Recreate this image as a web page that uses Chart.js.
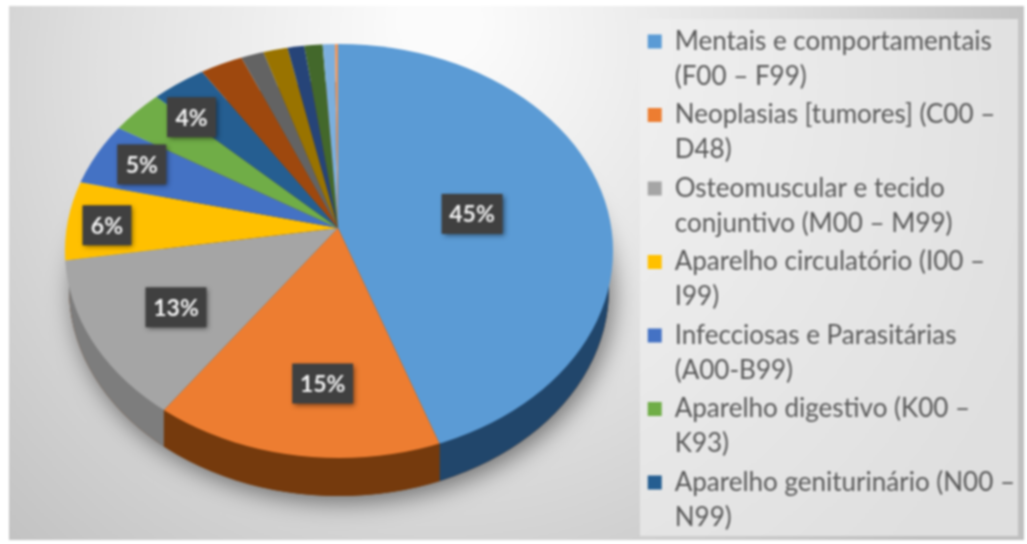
<!DOCTYPE html>
<html>
<head>
<meta charset="utf-8">
<title>Pizza</title>
<script src="https://cdn.jsdelivr.net/npm/chart.js@4"></script>
<style>
  html, body { margin: 0; padding: 0; background: #fff; overflow: hidden; }
  #wrap { width: 1027px; height: 544px; }
  canvas { filter: blur(0.8px); }
</style>
</head>
<body>
<div id="wrap"><canvas id="pieChart" width="1027" height="544"></canvas></div>
<script>
// legend text, one inner list per legend line
const categories = [
  ["Mentais e comportamentais", "(F00 – F99)"],
  ["Neoplasias [tumores] (C00 –", "D48)"],
  ["Osteomuscular e tecido", "conjuntivo (M00 – M99)"],
  ["Aparelho circulatório (I00 –", "I99)"],
  ["Infecciosas e Parasitárias", "(A00-B99)"],
  ["Aparelho digestivo (K00 –", "K93)"],
  ["Aparelho geniturinário (N00 –", "N99)"],
];
// percent of each slice, clockwise from the top
const values = [44.6, 15.3, 12.6, 6.2, 5.0, 3.5, 3.6, 2.8, 1.5, 1.6, 1.1, 1.2, 0.8, 0.2];
const labeledSlices = 6;
const colors = ["#5b9bd5", "#ed7d31", "#a5a5a5", "#ffc000", "#4472c4", "#70ad47", "#255e91",
  "#9e480e", "#636363", "#997300", "#264478", "#43682b", "#7cafdd", "#f1975a"];
const sideColors = ["#21466b", "#753a0d", "#7d7d7d", "#9c7600"];

// pie geometry in the picture: apex of the wedges and the rim ellipses
const apex = { x: 338, y: 228 };
const squash = 0.75;
const rim = { x: 339, y: 251, rx: 274, ry: 207 };
const base = { x: 339, y: 289, rx: 270, ry: 207 };
// where each percent label sits, as a part of the wedge direction
const labelAt = [[0.5, 0.41], [0.4, 0.77], [0.7, 0.74], [0.85, 0.35], [0.78, 0.82], [0.68, 0.89]];

function rimX(angle) {
  // where a wedge edge leaves the apex and hits the top ellipse
  const dx = Math.cos(angle), dy = Math.sin(angle) * squash;
  const ox = apex.x - rim.x, oy = apex.y - rim.y;
  const a = (dx * dx) / (rim.rx * rim.rx) + (dy * dy) / (rim.ry * rim.ry);
  const b = 2 * ((ox * dx) / (rim.rx * rim.rx) + (oy * dy) / (rim.ry * rim.ry));
  const c = (ox * ox) / (rim.rx * rim.rx) + (oy * oy) / (rim.ry * rim.ry) - 1;
  const t = (-b + Math.sqrt(b * b - 4 * a * c)) / (2 * a);
  return apex.x + t * dx;
}

const backdrop = {
  id: "backdrop",
  beforeDraw(chart) {
    const ctx = chart.ctx;
    const g = ctx.createRadialGradient(440, 20, 40, 440, 120, 640);
    g.addColorStop(0, "#fbfbfb");
    g.addColorStop(0.5, "#e0e0e0");
    g.addColorStop(0.75, "#cfcfcf");
    g.addColorStop(1, "#bfbfbf");
    ctx.save();
    ctx.fillStyle = "#fff";
    ctx.fillRect(0, 0, chart.width, chart.height);
    ctx.fillStyle = g;
    ctx.fillRect(9, 6, 1015, 534);
    ctx.fillStyle = "rgba(240,240,240,0.65)";
    ctx.fillRect(640, 19, 378, 517);
    ctx.restore();
  },
};

const pie3d = {
  id: "pie3d",
  beforeDatasetsDraw(chart) {
    const ctx = chart.ctx;
    const arcs = chart.getDatasetMeta(0).data;
    // side wall with its shadow, split in vertical strips per slice
    ctx.save();
    ctx.shadowColor = "rgba(0,0,0,0.5)";
    ctx.shadowBlur = 25;
    ctx.shadowOffsetX = 4;
    ctx.shadowOffsetY = 6;
    ctx.fillStyle = sideColors[1];
    ctx.beginPath();
    ctx.ellipse(base.x, base.y, base.rx, base.ry, 0, 0, Math.PI * 2);
    ctx.fill();
    ctx.restore();
    arcs.slice(0, sideColors.length).forEach((arc, i) => {
      const start = arc.startAngle, end = arc.endAngle;
      const left = end >= Math.PI ? -100 : rimX(end);
      const right = start < 0 && end > 0 ? 2000 : rimX(start);
      ctx.save();
      ctx.beginPath();
      ctx.rect(left, 0, right - left, chart.height);
      ctx.clip();
      ctx.fillStyle = sideColors[i];
      ctx.beginPath();
      ctx.ellipse(base.x, base.y, base.rx, base.ry, 0, 0, Math.PI * 2);
      ctx.fill();
      ctx.restore();
    });
    // top face: wedges squashed around the apex and cut by the rim
    ctx.save();
    ctx.beginPath();
    ctx.ellipse(rim.x, rim.y, rim.rx, rim.ry, 0, 0, Math.PI * 2);
    ctx.clip();
    const first = arcs[0];
    ctx.translate(apex.x, apex.y);
    ctx.scale(1, squash);
    ctx.translate(-first.x, -first.y);
  },
  afterDatasetsDraw(chart) {
    const ctx = chart.ctx;
    ctx.restore();
    const arcs = chart.getDatasetMeta(0).data;
    ctx.font = "700 23px Lato";
    ctx.textAlign = "center";
    ctx.textBaseline = "middle";
    values.slice(0, labeledSlices).forEach((v, i) => {
      const mid = (arcs[i].startAngle + arcs[i].endAngle) / 2;
      const cx = apex.x + Math.cos(mid) * 272 * labelAt[i][0];
      const cy = apex.y + Math.sin(mid) * 204 * labelAt[i][1];
      const text = Math.round(v) + "%";
      const w = text.length > 2 ? 61 : 49;
      ctx.save();
      ctx.shadowColor = "rgba(0,0,0,0.5)";
      ctx.shadowBlur = 5;
      ctx.shadowOffsetX = 2;
      ctx.shadowOffsetY = 2;
      ctx.fillStyle = "#404040";
      ctx.fillRect(cx - w / 2, cy - 20, w, 40);
      ctx.restore();
      ctx.fillStyle = "#f2f2f2";
      ctx.fillText(text, cx, cy + 1);
    });
  },
};

const ctx = document.getElementById("pieChart").getContext("2d");
// the reference legend has tight word gaps
ctx.wordSpacing = "-2px";
new Chart(ctx, {
  type: "pie",
  data: {
    labels: categories,
    datasets: [{ data: values, backgroundColor: colors, borderWidth: 0, radius: 380, clip: false }],
  },
  options: {
    responsive: false,
    animation: false,
    layout: { padding: { right: 2, top: 25 } },
    plugins: {
      legend: {
        position: "right",
        align: "start",
        labels: {
          color: "#595959",
          boxWidth: 14,
          boxHeight: 14,
          padding: 3.5,
          font: { family: "Lato", size: 26, lineHeight: 35 / 26 },
          filter: (item) => item.index < categories.length,
        },
      },
      tooltip: { enabled: false },
    },
  },
  plugins: [backdrop, pie3d],
});
</script>
</body>
</html>
